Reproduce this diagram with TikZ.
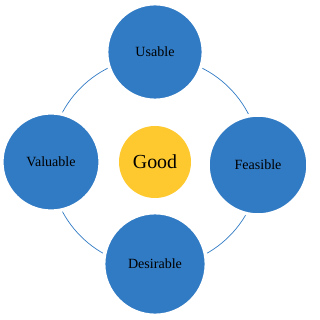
\documentclass[tikz,border=0pt]{standalone}
\usepackage{fontspec}
\setmainfont{Liberation Serif}
\usepackage{xcolor}
\definecolor{midblue}{RGB}{49,123,196}
\definecolor{goldyellow}{RGB}{254,201,46}

\begin{document}
\begin{tikzpicture}[x=0.03cm, y=-0.03cm,
    pillar/.style={circle, fill=midblue, draw=white, line width=3pt,
      inner sep=0pt, font=\fontsize{12}{14}\selectfont},
    core/.style={circle, fill=goldyellow, inner sep=0pt,
      minimum size=2.16cm, font=\fontsize{17}{20}\selectfont}]
  \useasboundingbox (0,0) rectangle (319,320);

  % Ring
  \node[core] (good) at (155,162) {Good};
  \draw[midblue, line width=0.6pt] (good.center) circle (105);

  % Pillars
  \node[pillar, minimum size=2.9cm] (usable) at (155,52) {Usable};
  \node[pillar, minimum size=2.95cm] (valuable) at (51,162) {Valuable};
  \node[pillar, minimum size=3.0cm] (feasible) at (258,165) {Feasible};
  \node[pillar, minimum size=3.08cm] (desirable) at (155,264) {Desirable};
\end{tikzpicture}
\end{document}
